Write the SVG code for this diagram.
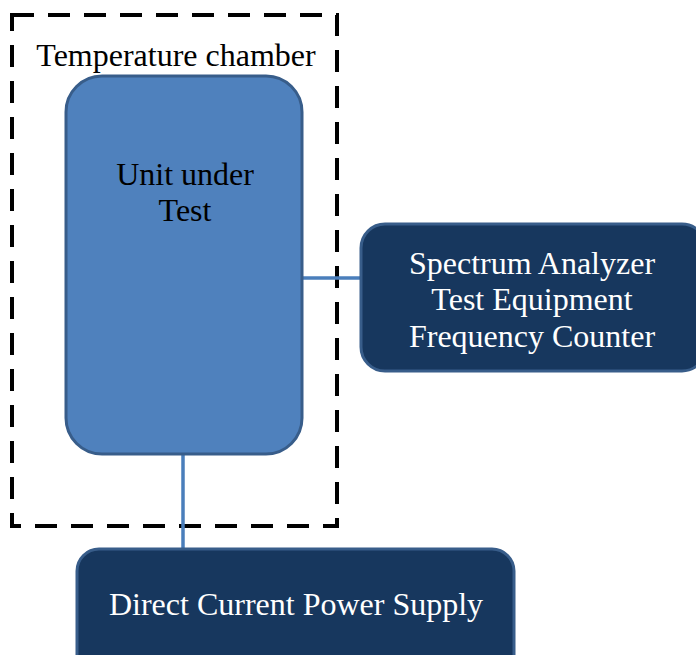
<svg xmlns="http://www.w3.org/2000/svg" width="696" height="655" viewBox="0 0 696 655">
<style>
.t{font-family:"Liberation Serif","Times New Roman",serif;font-size:32px;text-anchor:middle}
.dark{fill:#17375e;stroke:#385d8a;stroke-width:3}
.w{fill:#ffffff}
.conn{stroke:#4a7ebb;stroke-width:3.5;fill:none}
</style>
<rect width="696" height="655" fill="#ffffff"/>
<g id="chamber">
<rect x="12" y="15" width="325" height="511" fill="none" stroke="#000" stroke-width="4" stroke-dasharray="22 14"/>
<text class="t" x="176" y="66">Temperature chamber</text>
</g>
<g id="connectors">
<line class="conn" x1="302" y1="278" x2="362" y2="278"/>
<line class="conn" x1="183" y1="453" x2="183" y2="549"/>
</g>
<g id="uut">
<rect x="66" y="76" width="236" height="378" rx="36" fill="#4f81bd" stroke="#385d8a" stroke-width="3"/>
<text class="t" x="185" y="185">Unit under</text>
<text class="t" x="185" y="221">Test</text>
</g>
<g id="analyzer">
<rect class="dark" x="361" y="224" width="345" height="147" rx="24"/>
<text class="t w" x="532" y="274">Spectrum Analyzer</text>
<text class="t w" x="532" y="310">Test Equipment</text>
<text class="t w" x="532" y="347">Frequency Counter</text>
</g>
<g id="power">
<rect class="dark" x="77" y="549" width="437" height="130" rx="22"/>
<text class="t w" x="296" y="615">Direct Current Power Supply</text>
</g>
</svg>
